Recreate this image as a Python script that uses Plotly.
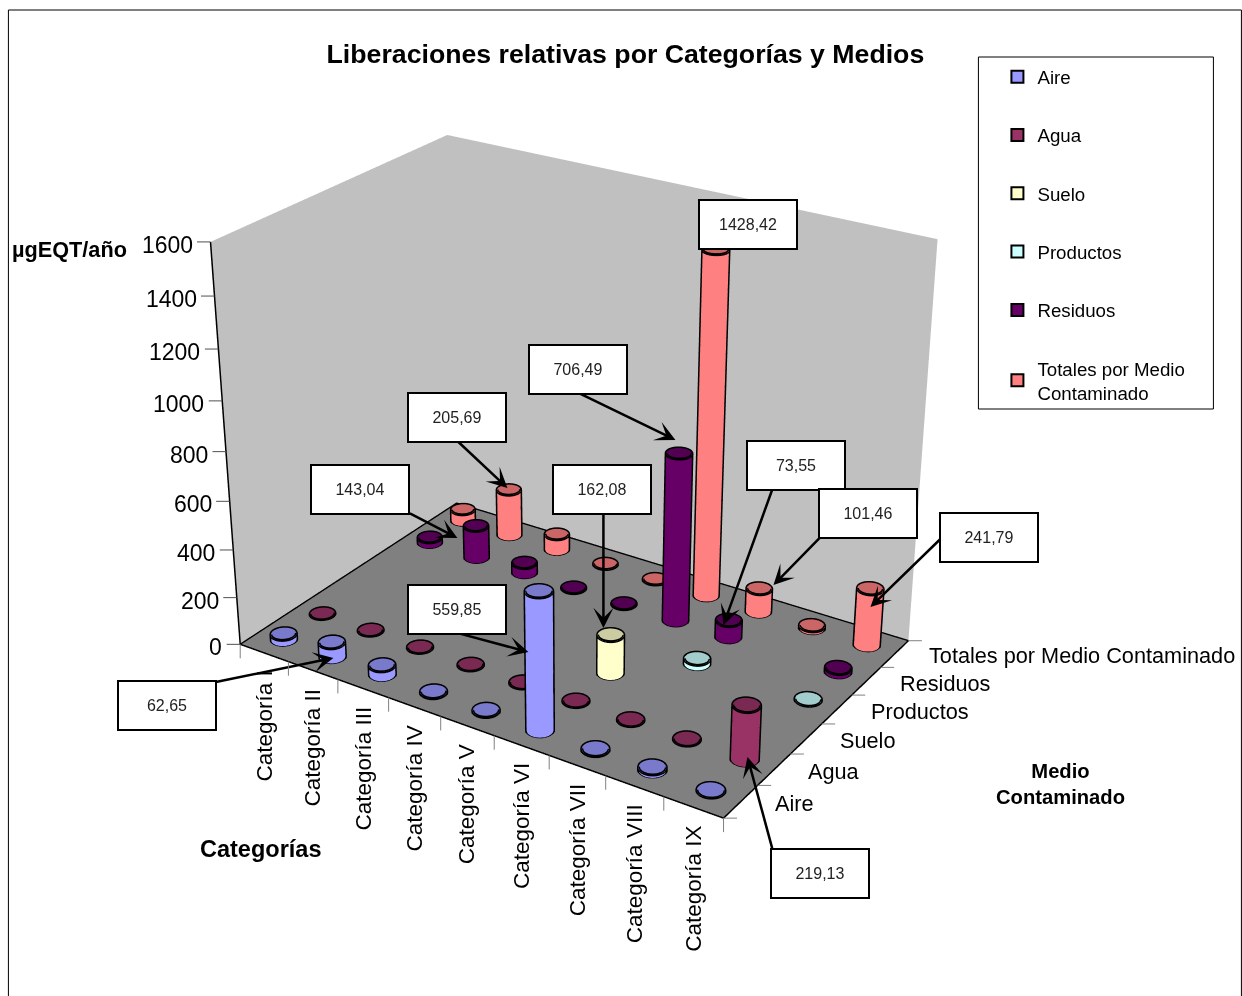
import numpy as np
import plotly.graph_objects as go

categories = ["Categoría I","Categoría II","Categoría III","Categoría IV","Categoría V","Categoría VI","Categoría VII","Categoría VIII","Categoría IX"]
media = ["Aire","Agua","Suelo","Productos","Residuos","Totales por Medio Contaminado"]
aire = [25,62.65,40,5,5,559.85,5,12,3]
agua = [2,2,2,2,2,2,2,2,219.13]
suelo = [0,0,0,0,0,162.08,0,0,0]
productos = [0,0,0,0,0,0,22,0,3]
residuos = [25,143.04,45,3,3,706.49,73.55,0,18]
totales = [52,205.69,70,4,4,1428.42,101.46,12,241.79]
z_ticks = [0,200,400,600,800,1000,1200,1400,1600]

series = [aire,agua,suelo,productos,residuos,totales]
legend_names = ["Aire","Agua","Suelo","Productos","Residuos","Totales por Medio<br>Contaminado"]
body = ["#9999FF","#993366","#FFFFCC","#CCFFFF","#660066","#FF8080"]
cap = ["#7A7ACC","#7A2952","#CCCCA3","#A3CCCC","#520052","#CC6666"]

# camera solved so the walls and floor land where they do in the picture
W,H=1242,996
AX,AY,EX,EY,EZ,YAW,PITCH=1.3013,0.8671,2.6334,-4.0353,2.3217,2.1479,-0.4681
VH,CXP,CYP=1972.6802,576.5819,495.4897
FW,FH=2000,1973
OX,OY=FW/2-CXP,FH/2-CYP
px=lambda x:(x+OX)/FW
py=lambda y:1-(y+OY)/FH
eye=np.array([EX,EY,EZ])
fwd=np.array([np.cos(PITCH)*np.cos(YAW),np.cos(PITCH)*np.sin(YAW),np.sin(PITCH)])
CX,CY,CZ=eye+fwd*np.linalg.norm(eye)
XMAX,YMAX,ZMAX=9,6,1600
def project(x,y,z):
    P=np.array([(x/XMAX-.5)*AX,(y/YMAX-.5)*AY,(z/ZMAX-.5)])
    s=np.cross(fwd,[0,0,1.]);s/=np.linalg.norm(s)
    u=np.cross(s,fwd)
    v=P-eye;d=v@fwd;F=1/np.tan(np.pi/8)
    return CXP+VH/2*F*(v@s)/d,CYP-VH/2*F*(v@u)/d

RX=0.205;RY=RX*(AX/XMAX)/(AY/YMAX)
N=36
fig=go.Figure()
fig.add_trace(go.Scatter3d(x=[0,XMAX,XMAX,0,0,0],y=[0,0,YMAX,YMAX,0,0],z=[0,0,0,0,0,ZMAX],mode="lines",line=dict(color="black",width=3),hoverinfo="skip",showlegend=False))
for s,(vals,bc,cc) in enumerate(zip(series,body,cap)):
    xs,ys,zs,ii,jj,kk,fc=[],[],[],[],[],[],[]
    lx,ly,lz=[],[],[]
    for c,v in enumerate(vals):
        if v<=0: continue
        x0,y0=c+.5,s+.5
        base=len(xs)
        th=np.linspace(0,2*np.pi,N,endpoint=False)
        for t in th:
            xs+= [x0+RX*np.cos(t),x0+RX*np.cos(t)]
            ys+= [y0+RY*np.sin(t),y0+RY*np.sin(t)]
            zs+= [0,v]
        xs.append(x0);ys.append(y0);zs.append(v)
        ctr=base+2*N
        for n in range(N):
            a,b=base+2*n,base+2*((n+1)%N)
            ii+=[a,a];jj+=[b,b+1];kk+=[b+1,a+1];fc+=[bc,bc]
            ii.append(a+1);jj.append(b+1);kk.append(ctr);fc.append(cc)
        ring=list(th)+[th[0]]
        for zv in (0,v):
            lx+=[x0+RX*np.cos(t) for t in ring]+[None]
            ly+=[y0+RY*np.sin(t) for t in ring]+[None]
            lz+=[zv]*len(ring)+[None]
        w=np.array([(x0/XMAX-.5)*AX,(y0/YMAX-.5)*AY,0.])-eye
        t0=np.arctan2(w[0]*(AX/XMAX)*RX,-w[1]*(AY/YMAX)*RY)
        for t in (t0,t0+np.pi):
            lx+=[x0+RX*np.cos(t)]*2+[None]
            ly+=[y0+RY*np.sin(t)]*2+[None]
            lz+=[0,v,None]
    fig.add_trace(go.Mesh3d(x=xs,y=ys,z=zs,i=ii,j=jj,k=kk,facecolor=fc,flatshading=True,
        lighting=dict(ambient=1,diffuse=0,specular=0,fresnel=0,roughness=1),hoverinfo="skip",showlegend=False))
    fig.add_trace(go.Scatter3d(x=lx,y=ly,z=lz,mode="lines",line=dict(color="black",width=6),hoverinfo="skip",showlegend=False))
    fig.add_trace(go.Scatter3d(x=[None],y=[None],z=[None],mode="markers",name=legend_names[s],legendgroup=str(s),
        marker=dict(symbol="square",size=11,color=bc,line=dict(color="black",width=2))))

# text, series, category, medium, box centre, arrow start, arrow tip, height fraction
labels=[("62,65",aire,1,0,(167,705),(215,682),(333,658),.6),
        ("143,04",residuos,1,4,(360,489),(409,513),(457,538),.7),
        ("205,69",totales,1,5,(457,417),(457,441),(507,488),1),
        ("706,49",residuos,5,4,(578,369),(578,393),(675,440),1),
        ("1428,42",totales,5,5,(748,225),None,(714,250),1),
        ("162,08",suelo,5,2,(602,489),(603,513),(603,628),1),
        ("73,55",residuos,6,4,(796,465),(772,489),(723,625),1),
        ("101,46",totales,6,5,(868,513),(820,537),(773,585),1),
        ("241,79",totales,8,5,(989,537),(942,537),(870,607),.8),
        ("559,85",aire,5,0,(457,609),(457,633),(528,652),.8),
        ("219,13",agua,8,1,(820,873),(772,849),(747,757),.1)]
ann=[]
for text,vals,c,s,box,start,tip,fr in labels:
    z=vals[c]*fr
    qx,qy=project(c+.5,s+.5,z)
    if start:
        ann.append(dict(x=c+.5,y=s+.5,z=z,text=" ",font=dict(size=1),borderpad=0,showarrow=True,arrowhead=3,arrowsize=1.35,arrowwidth=2.5,arrowcolor="black",
            ax=start[0]-tip[0],ay=start[1]-tip[1],xshift=tip[0]-qx,yshift=qy-tip[1]))
for text,vals,c,s,box,start,tip,fr in labels:
    z=vals[c]*fr
    qx,qy=project(c+.5,s+.5,z)
    ann.append(dict(x=c+.5,y=s+.5,z=z,text=text,showarrow=False,xshift=box[0]-qx,yshift=qy-box[1],
        bgcolor="white",bordercolor="black",borderwidth=2,width=94,height=45,
        font=dict(family="Liberation Sans",size=16,color="#222")))
tick=dict(text=" ",font=dict(size=1),borderpad=0,showarrow=True,arrowhead=0,arrowwidth=1,arrowcolor="#808080",standoff=0)
for c in range(XMAX+1):
    ann.append(dict(x=c,y=0,z=0,ax=0,ay=15,**tick))
for s in range(YMAX+1):
    ann.append(dict(x=XMAX,y=s,z=0,ax=14,ay=0,**tick))
for v in z_ticks:
    ann.append(dict(x=0,y=0,z=v,ax=-14,ay=0,text=" ",font=dict(size=1),borderpad=0,showarrow=True,arrowhead=0,arrowwidth=1,arrowcolor="#505050",standoff=0))
    ann.append(dict(x=0,y=0,z=v,text=str(v),showarrow=False,xanchor="right",xshift=-16,yshift=-3,
        font=dict(family="Liberation Sans",size=23,color="black")))
for c,name in enumerate(categories):
    ann.append(dict(x=c+.5,y=0,z=0,text=name,textangle=-90,showarrow=False,yanchor="top",yshift=-16,
        font=dict(family="Liberation Sans",size=22.5,color="black")))
for s,name in enumerate(media):
    ann.append(dict(x=XMAX,y=s+.5,z=0,text=name,showarrow=False,xanchor="left",xshift=32,yshift=-2,
        font=dict(family="Liberation Sans",size=21.7,color="black")))

def axis(rng,bg):
    return dict(range=rng,showticklabels=False,ticks="",showgrid=False,zeroline=False,showline=False,
        showbackground=True,backgroundcolor=bg,title=dict(text=""),showspikes=False)
fig.update_layout(width=FW,height=FH,margin=dict(l=0,r=0,t=0,b=0),paper_bgcolor="white",hovermode=False,
    title=dict(text="<b>Liberaciones relativas por Categorías y Medios</b>",x=px(625),y=py(54),xanchor="center",yanchor="middle",
        font=dict(family="Liberation Sans",size=26.7,color="black")),
    scene=dict(domain=dict(x=[0,1],y=[0,1]),aspectmode="manual",aspectratio=dict(x=AX,y=AY,z=1),
        camera=dict(eye=dict(x=EX,y=EY,z=EZ),center=dict(x=CX,y=CY,z=CZ),up=dict(x=0,y=0,z=1),projection=dict(type="perspective")),
        xaxis=axis([0,XMAX],"#C0C0C0"),yaxis=axis([0,YMAX],"#C0C0C0"),zaxis=axis([0,ZMAX],"#808080"),
        annotations=ann),
    legend=dict(x=px(997),y=py(58),xanchor="left",yanchor="top",bgcolor="rgba(0,0,0,0)",borderwidth=0,tracegroupgap=31,itemsizing="constant",
        font=dict(family="Liberation Sans",size=18.7,color="black")),
    shapes=[dict(type="rect",xref="paper",yref="paper",x0=px(978),x1=px(1213),y0=py(57),y1=py(409),line=dict(color="black",width=1),layer="below"),
            dict(type="rect",xref="paper",yref="paper",x0=px(8),x1=px(1241),y0=py(10),y1=py(1100),line=dict(color="black",width=1),layer="below")],
    annotations=[dict(xref="paper",yref="paper",x=px(69),y=py(249),xanchor="center",yanchor="middle",text="<b>µgEQT/año</b>",showarrow=False,font=dict(family="Liberation Sans",size=21.7,color="black")),
        dict(xref="paper",yref="paper",x=px(260),y=py(849),xanchor="center",yanchor="middle",text="<b>Categorías</b>",showarrow=False,font=dict(family="Liberation Sans",size=23.5,color="black")),
        dict(xref="paper",yref="paper",x=px(1060),y=py(784),xanchor="center",yanchor="middle",text="<b>Medio<br>Contaminado</b>",showarrow=False,font=dict(family="Liberation Sans",size=20.2,color="black"))])
post=f"""var g=document.getElementById('{{plot_id}}');g.style.position='absolute';g.style.left='{-OX}px';g.style.top='{-OY}px';
document.body.style.margin='0';document.body.style.overflow='hidden';document.documentElement.style.overflow='hidden';"""
fig.write_html("out.html",config=dict(displayModeBar=False),post_script=post)
